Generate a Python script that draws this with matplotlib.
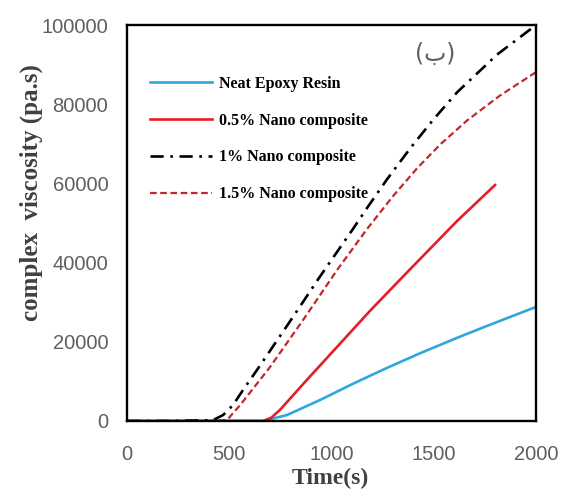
import matplotlib
matplotlib.use("Agg")
import matplotlib.pyplot as plt

# viscosity curves, time in s, viscosity in pa.s
t_neat = [0, 400, 665, 782, 944, 1105, 1271, 1433, 1614, 1760, 2000]
v_neat = [0, 0, 0, 1500, 5300, 9400, 13400, 17100, 21000, 24000, 28800]

t_05 = [0, 400, 665, 705, 748, 880, 1027, 1188, 1350, 1614, 1800]
v_05 = [0, 0, 0, 800, 2800, 10400, 18700, 27800, 36500, 50500, 59600]

t_10 = [0, 200, 420, 470, 518, 567, 636, 812, 944, 1105, 1174, 1271, 1384, 1496, 1614, 1809, 2000]
v_10 = [0, 0, 200, 1500, 4000, 7800, 12900, 26300, 36500, 48500, 53800, 61000, 68800, 76000, 83000, 92500, 100000]

t_15 = [0, 400, 489, 553, 699, 861, 1027, 1174, 1301, 1418, 1531, 1663, 1824, 2000]
v_15 = [0, 0, 250, 4000, 13600, 25500, 38100, 48500, 56800, 63800, 69800, 75900, 82200, 88100]

x_ticks = [0, 500, 1000, 1500, 2000]
y_ticks = [0, 20000, 40000, 60000, 80000, 100000]

tick_color = "#5f5f5f"
label_color = "#404040"

fig = plt.figure(figsize=(5.63, 4.91), dpi=100)
ax = fig.add_axes([0.2256, 0.1426, 0.7264, 0.8064])

ax.plot(t_neat, v_neat, color="#2ea8dc", lw=1.9, label="Neat Epoxy Resin")
ax.plot(t_05, v_05, color="#e31e24", lw=1.9, label="0.5% Nano composite")
ax.plot(t_10, v_10, color="black", lw=1.9, ls=(0, (5, 2.5, 1, 2.5)),
        label="1% Nano composite")
ax.plot(t_15, v_15, color="#c1272d", lw=1.6, ls=(0, (3, 1.6)),
        label="1.5% Nano composite")

ax.set_xlim(0, 2000)
ax.set_ylim(0, 100000)
ax.set_xticks(x_ticks)
ax.set_yticks(y_ticks)
ax.tick_params(length=0, labelsize=14.5, labelcolor=tick_color,
               labelfontfamily="Liberation Sans")
ax.tick_params(axis="x", pad=17)
ax.tick_params(axis="y", pad=13.5)
for s in ax.spines.values():
    s.set_linewidth(1.7)
    s.set_color("black")

ax.set_xlabel("Time(s)", fontsize=17, fontweight="bold", family="Liberation Serif",
              color=label_color, va="center")
ax.xaxis.set_label_coords(0.496, -0.144)
ax.set_ylabel("complex  viscosity (pa.s)", fontsize=18, fontweight="bold",
              family="Liberation Serif", color=label_color, va="center", ha="center")
ax.yaxis.set_label_coords(-0.235, 0.578)

ax.text(0.753, 0.927, "(ب)", transform=ax.transAxes, ha="center", va="center",
        fontsize=17, color=tick_color, family="DejaVu Sans")

leg = ax.legend(loc="center left", bbox_to_anchor=(0.056, 0.712), frameon=False,
                borderpad=0, borderaxespad=0, handlelength=3.9, handletextpad=0.4,
                labelspacing=1.3,
                prop={"family": "Liberation Serif", "weight": "bold", "size": 11.5})

fig.savefig("out.png", dpi=100)
